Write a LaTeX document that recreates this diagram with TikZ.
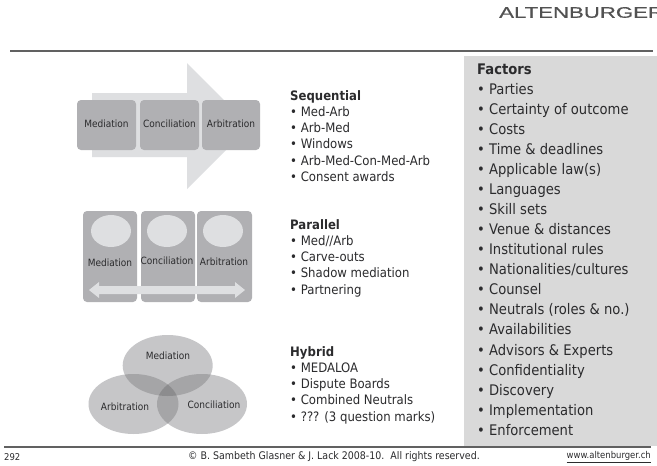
\documentclass[tikz,border=0pt]{standalone}
\usepackage{fontspec}
\setmainfont[FakeStretch=0.9]{DejaVu Sans}
\newfontfamily\headfont[FakeStretch=1.45,FakeBold=0.6]{Liberation Sans}
\definecolor{inkc}{HTML}{2B2B2D}
\definecolor{boxc}{HTML}{B0B0B3}
\definecolor{lightc}{HTML}{DEDFE1}
\definecolor{panelc}{HTML}{D9D9D9}
\definecolor{vennc}{HTML}{C6C6C8}
\definecolor{venntwo}{HTML}{A5A5A7}
\definecolor{vennthree}{HTML}{8C8C8E}
\tikzset{
  tile/.style={fill=boxc,rounded corners=4pt,draw=none},
  boxlabel/.style={font=\fontsize{10}{12}\selectfont,text=inkc,inner sep=0pt},
  listtext/.style={font=\fontsize{13}{16.25}\selectfont,text=inkc,align=left,anchor=north west,inner sep=0pt},
  factortext/.style={font=\fontsize{14.6}{20.05}\selectfont,text=inkc,align=left,anchor=north west,inner sep=0pt},
  footer/.style={font=\fontsize{9.4}{11}\selectfont,text=inkc,inner sep=0pt},
  rule/.style={draw=black!62,line width=1.4pt}
}
\begin{document}
\begin{tikzpicture}[x=1pt,y=-1pt]
\useasboundingbox (0,0) rectangle (657,466);
\fill[white] (0,0) rectangle (657,466);
% header
\begin{scope}
\clip (0,0) rectangle (657,466);
\node[font=\headfont\fontsize{15.3}{17}\selectfont,text=black!68,anchor=west,inner sep=0pt] (brand) at (499,12.5) {ALTENBURGER};
\end{scope}
\coordinate (tl) at (10,51); \coordinate (tr) at (653,51);
\draw[rule] (tl) -- (tr);
\coordinate (bl) at (4,447); \coordinate (br) at (651,447);
% factors panel
\fill[panelc] (464,56) rectangle (657,445.5);
\draw[rule] (bl) -- (br);
% sequential
\fill[lightc] (92,93) -- (187,93) -- (187,63) -- (250,126) -- (187,189) -- (187,157) -- (92,157) -- cycle;
\fill[tile] (77,100) rectangle (136,150);
\fill[tile] (140,100) rectangle (199,150);
\fill[tile] (202,100) rectangle (260,150);
\node[boxlabel] (s1) at (106.5,124) {Mediation};
\node[boxlabel] (s2) at (169.5,124) {Conciliation};
\node[boxlabel] (s3) at (231,124) {Arbitration};
% parallel
\fill[tile] (83,211) rectangle (137,302);
\fill[tile] (141,211) rectangle (195,302);
\fill[tile] (197,211) rectangle (252,302);
\fill[lightc] (111,231) ellipse (20 and 16);
\fill[lightc] (167,231) ellipse (20 and 16);
\fill[lightc] (223,231) ellipse (20 and 16);
\fill[lightc] (89,290) -- (99,282) -- (99,286) -- (235,286) -- (235,282) -- (245,290) -- (235,298) -- (235,294) -- (99,294) -- (99,298) -- cycle;
\node[boxlabel] (p1) at (110,263) {Mediation};
\node[boxlabel] (p2) at (167,261) {Conciliation};
\node[boxlabel] (p3) at (224,262) {Arbitration};
% hybrid
\fill[vennc] (167.7,365.5) ellipse (45 and 30.5);
\fill[vennc] (133.5,404) ellipse (45 and 30);
\fill[vennc] (202,404) ellipse (45 and 30);
\begin{scope}
\clip (167.7,365.5) ellipse (45 and 30.5);
\fill[venntwo] (133.5,404) ellipse (45 and 30);
\fill[venntwo] (202,404) ellipse (45 and 30);
\end{scope}
\begin{scope}
\clip (133.5,404) ellipse (45 and 30);
\fill[venntwo] (202,404) ellipse (45 and 30);
\clip (202,404) ellipse (45 and 30);
\fill[vennthree] (167.7,365.5) ellipse (45 and 30.5);
\end{scope}
\node[boxlabel] (h1) at (168,356) {Mediation};
\node[boxlabel] (h2) at (125,407) {Arbitration};
\node[boxlabel] (h3) at (214,405) {Conciliation};
% lists
\node[listtext] (l1) at (290,90) {\textbf{Sequential}\\• Med-Arb\\• Arb-Med\\• Windows\\• Arb-Med-Con-Med-Arb\\• Consent awards};
\node[listtext] (l2) at (290,219) {\textbf{Parallel}\\• Med//Arb\\• Carve-outs\\• Shadow mediation\\• Partnering};
\node[listtext] (l3) at (290,346) {\textbf{Hybrid}\\• MEDALOA\\• Dispute Boards\\• Combined Neutrals\\• ??? (3 question marks)};
\node[factortext] (f) at (477,63.5) {\textbf{Factors}\\• Parties\\• Certainty of outcome\\• Costs\\• Time \& deadlines\\• Applicable law(s)\\• Languages\\• Skill sets\\• Venue \& distances\\• Institutional rules\\• Nationalities/cultures\\• Counsel\\• Neutrals (roles \& no.)\\• Availabilities\\• Advisors \& Experts\\• Confidentiality\\• Discovery\\• Implementation\\• Enforcement};
% footer
\node[footer,anchor=west] (n) at (4,457) {292};
\node[footer,font=\fontsize{10.5}{12}\selectfont] (c) at (334,457) {© B. Sambeth Glasner \& J. Lack 2008-10.\ \ All rights reserved.};
\node[footer,anchor=east] (w) at (651,457) {\underline{www.altenburger.ch}};
\end{tikzpicture}
\end{document}
